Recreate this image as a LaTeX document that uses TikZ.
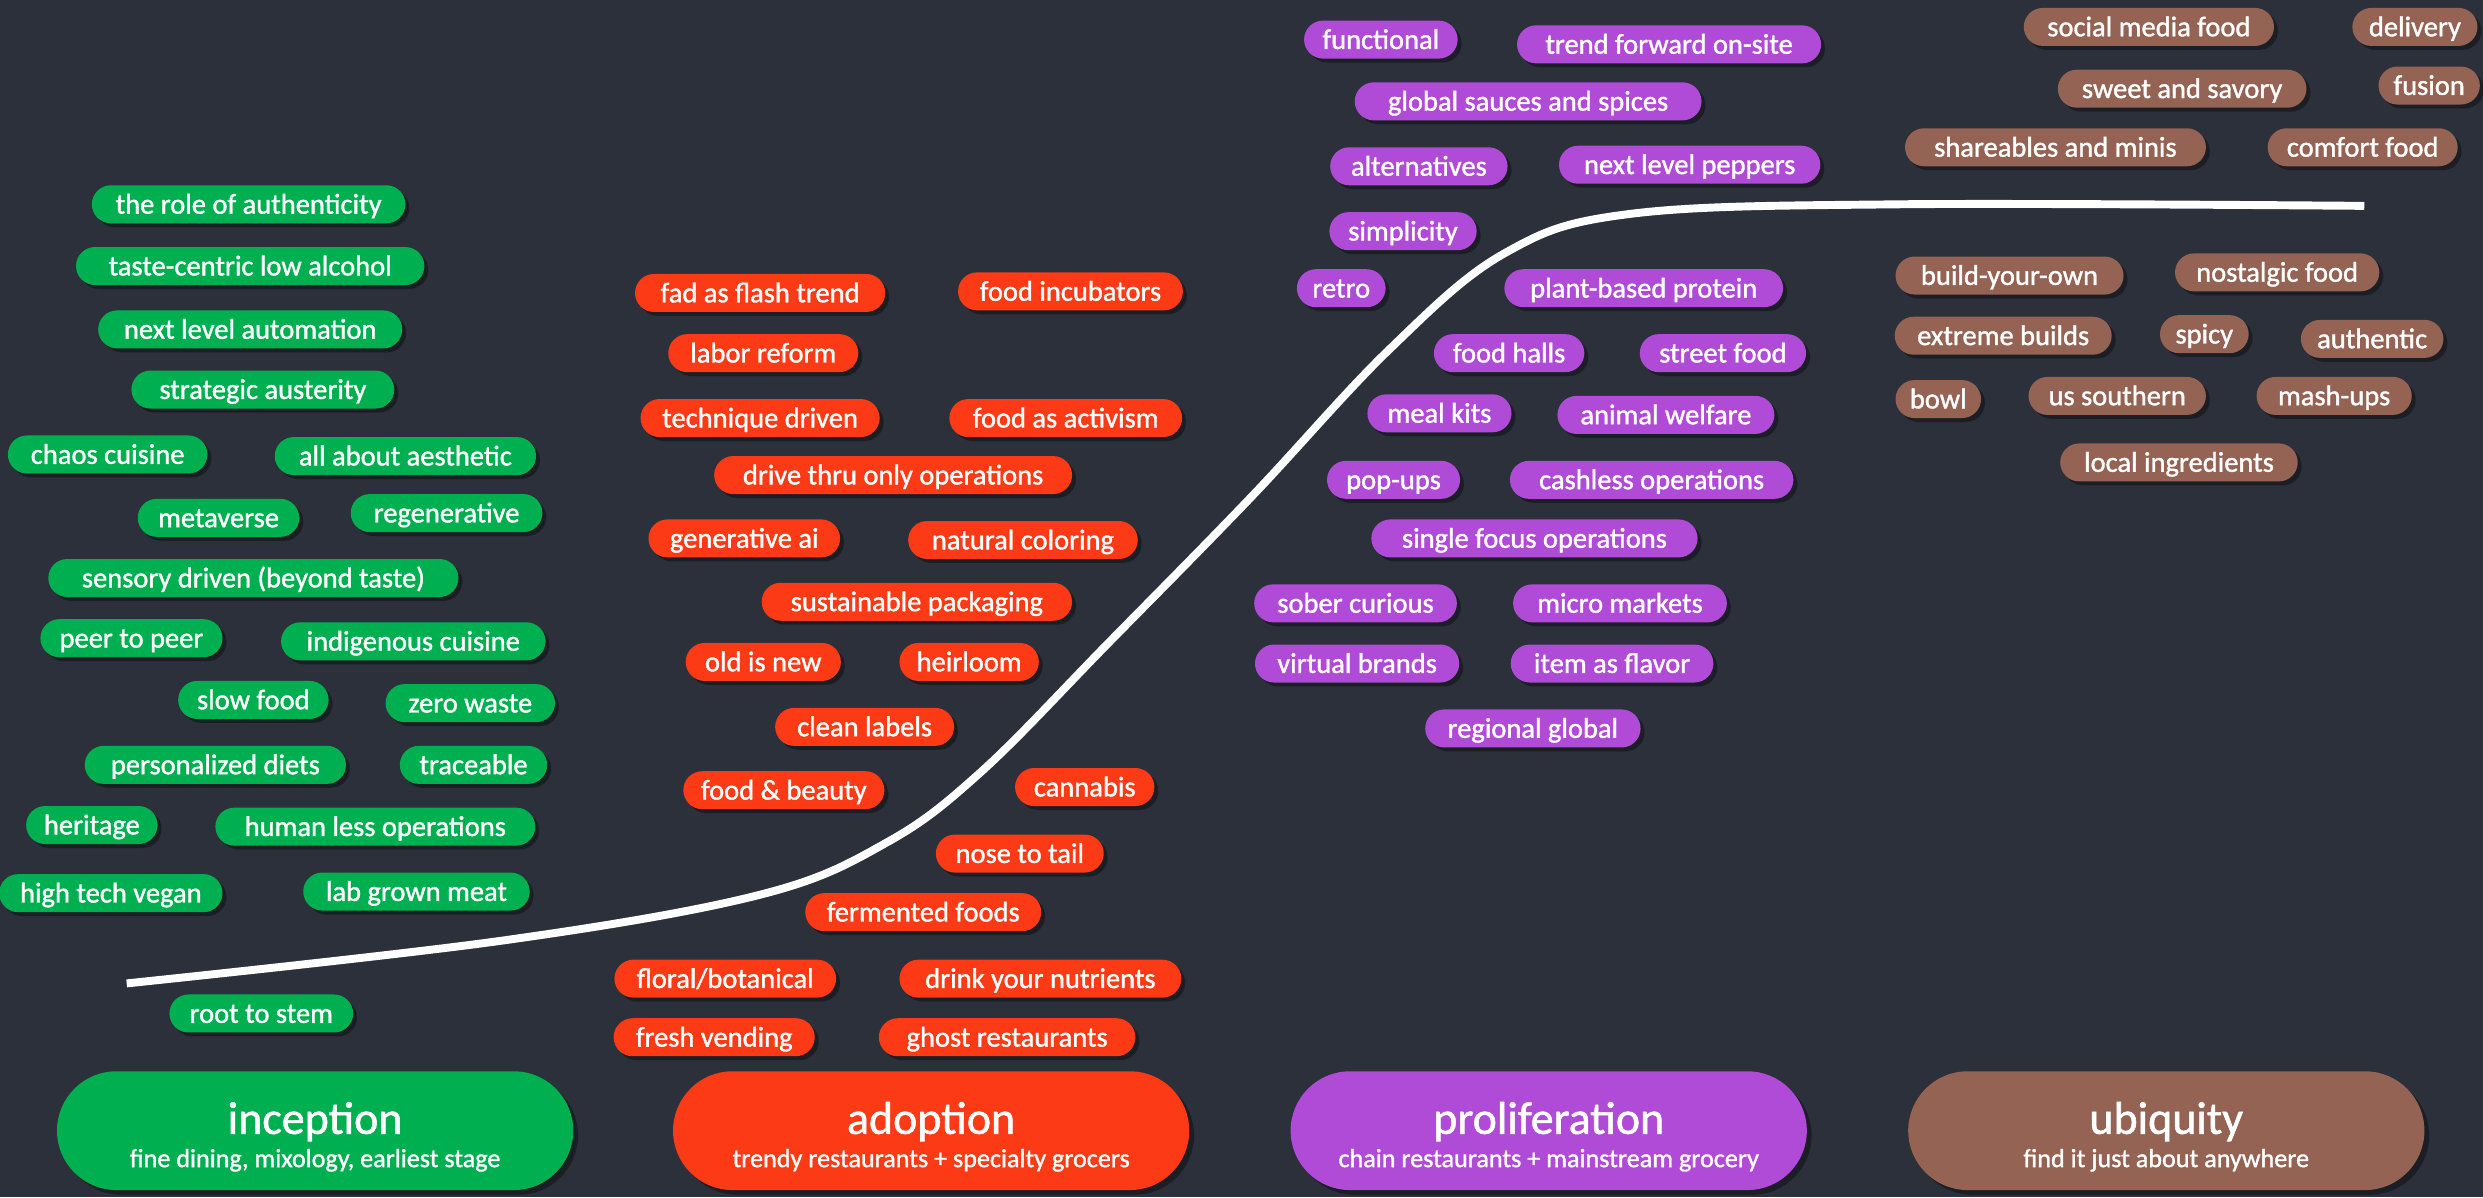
\documentclass[tikz,border=0pt]{standalone}
\usepackage{fontspec}
\setmainfont{Carlito}
\newfontfamily\pillfont{Carlito}[FakeBold=1.2]
\usetikzlibrary{shapes.misc,shadows}
\definecolor{bg}{HTML}{2B303A}
\definecolor{cgreen}{HTML}{00B050}
\definecolor{corange}{HTML}{FC3A16}
\definecolor{cpurple}{HTML}{B04BD8}
\definecolor{cbrown}{HTML}{946354}
\tikzset{
  pill/.style={rounded rectangle, minimum height=24pt, inner sep=0pt, text=white,
    font=\pillfont\fontsize{18}{20}\selectfont, text height=15pt, text depth=3.2pt,
    drop shadow={shadow xshift=2.5pt,shadow yshift=-2.5pt,opacity=0.35,fill=black}},
  stagepill/.style={rounded rectangle, minimum height=75pt, minimum width=326pt, inner sep=0pt,
    drop shadow={shadow xshift=3pt,shadow yshift=-3pt,opacity=0.35,fill=black}},
  stagetitle/.style={anchor=base, text=white, inner sep=0pt, font=\pillfont\fontsize{29}{30}\selectfont},
  stagesub/.style={anchor=base, text=white, inner sep=0pt, font=\pillfont\fontsize{16.5}{18}\selectfont},
  curve/.style={white, line width=5pt},
}
\newcommand\pl[6]{\node[pill,fill=#2,minimum width=#5pt] (#1) at (#3,#4) {#6};}
\begin{document}
\begin{tikzpicture}[x=1pt,y=-1pt]
\fill[bg] (0,0) rectangle (1568,756);
\useasboundingbox (0,0) rectangle (1568,756);
% adoption curve
\draw[curve] plot[smooth, tension=0.6] coordinates {(80,621) (317,594) (480,565) (560,532) (620,487) (700,406) (790,314) (877,221) (950,160) (1030,135) (1200,129) (1493,130)};
% green
\pl{g1}{cgreen}{157}{129}{198}{the role of authenticity}
\pl{g2}{cgreen}{158}{168}{220}{taste-centric low alcohol}
\pl{g3}{cgreen}{158}{208}{192}{next level automation}
\pl{g4}{cgreen}{166}{246}{166}{strategic austerity}
\pl{g5}{cgreen}{68}{287}{126}{chaos cuisine}
\pl{g6}{cgreen}{256}{288}{165}{all about aesthetic}
\pl{g7}{cgreen}{138}{327}{102}{metaverse}
\pl{g8}{cgreen}{282}{324}{121}{regenerative}
\pl{g9}{cgreen}{160}{365}{259}{sensory driven (beyond taste)}
\pl{g10}{cgreen}{83}{403}{115}{peer to peer}
\pl{g11}{cgreen}{261}{405}{167}{indigenous cuisine}
\pl{g12}{cgreen}{160}{442}{95}{slow food}
\pl{g13}{cgreen}{297}{444}{107}{zero waste}
\pl{g14}{cgreen}{136}{483}{165}{personalized diets}
\pl{g15}{cgreen}{299}{483}{93}{traceable}
\pl{g16}{cgreen}{58}{521}{83}{heritage}
\pl{g17}{cgreen}{237}{522}{202}{human less operations}
\pl{g18}{cgreen}{70}{564}{141}{high tech vegan}
\pl{g19}{cgreen}{263}{563}{143}{lab grown meat}
\pl{g20}{cgreen}{165}{640}{116}{root to stem}
% orange
\pl{o1}{corange}{480}{185}{158}{fad as flash trend}
\pl{o2}{corange}{676}{184}{142}{food incubators}
\pl{o3}{corange}{482}{223}{120}{labor reform}
\pl{o4}{corange}{480}{264}{151}{technique driven}
\pl{o5}{corange}{673}{264}{147}{food as activism}
\pl{o6}{corange}{564}{300}{226}{drive thru only operations}
\pl{o7}{corange}{470}{340}{121}{generative ai}
\pl{o8}{corange}{646}{341}{145}{natural coloring}
\pl{o9}{corange}{579}{380}{196}{sustainable packaging}
\pl{o10}{corange}{482}{418}{98}{old is new}
\pl{o11}{corange}{612}{418}{88}{heirloom}
\pl{o12}{corange}{546}{459}{113}{clean labels}
\pl{o13}{corange}{495}{499}{127}{food \& beauty}
\pl{o14}{corange}{685}{497}{88}{cannabis}
\pl{o15}{corange}{644}{539}{106}{nose to tail}
\pl{o16}{corange}{583}{576}{149}{fermented foods}
\pl{o17}{corange}{458}{618}{140}{floral/botanical}
\pl{o18}{corange}{657}{618}{178}{drink your nutrients}
\pl{o19}{corange}{451}{655}{127}{fresh vending}
\pl{o20}{corange}{636}{655}{162}{ghost restaurants}
% purple
\pl{p1}{cpurple}{872}{25}{97}{functional}
\pl{p2}{cpurple}{1054}{28}{192}{trend forward on-site}
\pl{p3}{cpurple}{965}{64}{219}{global sauces and spices}
\pl{p4}{cpurple}{896}{105}{112}{alternatives}
\pl{p5}{cpurple}{1067}{104}{165}{next level peppers}
\pl{p6}{cpurple}{886}{146}{93}{simplicity}
\pl{p7}{cpurple}{847}{182}{56}{retro}
\pl{p8}{cpurple}{1038}{182}{176}{plant-based protein}
\pl{p9}{cpurple}{953}{223}{95}{food halls}
\pl{p10}{cpurple}{1088}{223}{105}{street food}
\pl{p11}{cpurple}{909}{261}{91}{meal kits}
\pl{p12}{cpurple}{1052}{262}{137}{animal welfare}
\pl{p13}{cpurple}{880}{303}{84}{pop-ups}
\pl{p14}{cpurple}{1043}{303}{179}{cashless operations}
\pl{p15}{cpurple}{969}{340}{206}{single focus operations}
\pl{p16}{cpurple}{856}{381}{128}{sober curious}
\pl{p17}{cpurple}{1023}{381}{135}{micro markets}
\pl{p18}{cpurple}{857}{419}{129}{virtual brands}
\pl{p19}{cpurple}{1018}{419}{128}{item as flavor}
\pl{p20}{cpurple}{968}{460}{136}{regional global}
% brown
\pl{b1}{cbrown}{1357}{17}{158}{social media food}
\pl{b2}{cbrown}{1525}{17}{79}{delivery}
\pl{b3}{cbrown}{1378}{56}{157}{sweet and savory}
\pl{b4}{cbrown}{1534}{54}{64}{fusion}
\pl{b5}{cbrown}{1298}{93}{190}{shareables and minis}
\pl{b6}{cbrown}{1492}{93}{120}{comfort food}
\pl{b7}{cbrown}{1269}{174}{144}{build-your-own}
\pl{b8}{cbrown}{1438}{172}{129}{nostalgic food}
\pl{b9}{cbrown}{1265}{212}{137}{extreme builds}
\pl{b10}{cbrown}{1392}{211}{56}{spicy}
\pl{b11}{cbrown}{1498}{214}{90}{authentic}
\pl{b12}{cbrown}{1224}{252}{54}{bowl}
\pl{b13}{cbrown}{1337}{250}{112}{us southern}
\pl{b14}{cbrown}{1474}{250}{98}{mash-ups}
\pl{b15}{cbrown}{1376}{292}{150}{local ingredients}
% stages
\node[stagepill,fill=cgreen] (s1) at (199,714) {};
\node[stagepill,fill=corange] (s2) at (588,714) {};
\node[stagepill,fill=cpurple] (s3) at (978,714) {};
\node[stagepill,fill=cbrown] (s4) at (1368,714) {};
\node[stagetitle] (s1t) at (199,716) {inception};
\node[stagesub] (s1s) at (199,737) {fine dining, mixology, earliest stage};
\node[stagetitle] (s2t) at (588,716) {adoption};
\node[stagesub] (s2s) at (588,737) {trendy restaurants + specialty grocers};
\node[stagetitle] (s3t) at (978,716) {proliferation};
\node[stagesub] (s3s) at (978,737) {chain restaurants + mainstream grocery};
\node[stagetitle] (s4t) at (1368,716) {ubiquity};
\node[stagesub] (s4s) at (1368,737) {find it just about anywhere};
\end{tikzpicture}
\end{document}
